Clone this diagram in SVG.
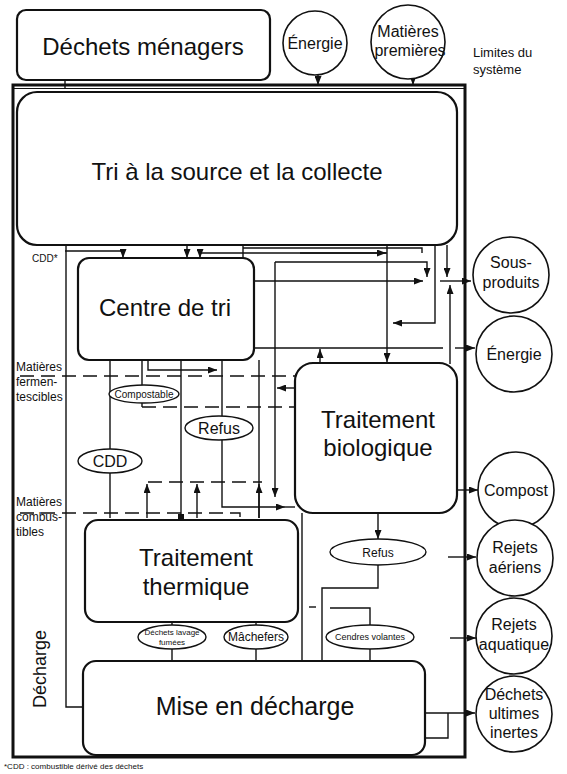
<svg xmlns="http://www.w3.org/2000/svg" width="567" height="774" viewBox="0 0 567 774">
<style>
.box{fill:#fff;stroke:#111;stroke-width:2.2}
.circ{fill:#fff;stroke:#111;stroke-width:1.6}
.ell{fill:#fff;stroke:#111;stroke-width:1.4}
.ln{fill:none;stroke:#111;stroke-width:1.4}
.dash{fill:none;stroke:#111;stroke-width:1.4;stroke-dasharray:14 7}
.arr{fill:none;stroke:#111;stroke-width:1.4;marker-end:url(#ah)}
text{font-family:"Liberation Sans",Arial,sans-serif;fill:#111;text-anchor:middle}
.big{font-size:24px}
.mid{font-size:16px}
.sm{font-size:12px}
.xs{font-size:10px}
.lab{font-size:12px;text-anchor:start}
</style>
<defs>
<marker id="ah" markerWidth="9" markerHeight="7" refX="9" refY="3.5" orient="auto" markerUnits="userSpaceOnUse">
<path d="M0,0 L9,3.5 L0,7 z" fill="#111"/>
</marker>
</defs>
<rect width="567" height="774" fill="#fff"/>

<!-- system boundary -->
<g id="boundary">
<rect x="13" y="85" width="452" height="672" fill="none" stroke="#111" stroke-width="3"/>
<line x1="13" y1="88.5" x2="465" y2="88.5" stroke="#111" stroke-width="1.2"/>
</g>

<g id="connectors">
<!-- top inputs -->
<path class="arr" d="M318,75 V85"/>
<path class="arr" d="M413,79 V85"/>
<path class="ln" d="M65,80 V89"/>
<!-- Tri -> Centre de tri -->
<path class="arr" d="M65,251 H123 V258"/>
<path class="arr" d="M187,245 V258"/>
<path class="arr" d="M387,253 H200 V258"/>
<path class="arr" d="M300,253 H386"/>
<path class="ln" d="M243,245 V258"/>
<path class="ln" d="M243,248 H422 V253"/>
<path class="arr" d="M275,262 H427 V277"/>
<path class="arr" d="M275,262 V497"/>
<!-- to Sous-produits -->
<path class="arr" d="M253,281 H423"/>
<path class="arr" d="M440,281 H471"/>
<path class="arr" d="M387,245 V362"/>
<path class="arr" d="M435,245 V323 H393"/>
<path class="arr" d="M447,245 V277"/>
<path class="arr" d="M450,364 V285"/>
<!-- to Energie -->
<path class="ln" d="M253,348 H443"/>
<path class="arr" d="M455,348 H475"/>
<path class="arr" d="M320,363 V349"/>
<!-- below Centre de tri -->
<path class="ln" d="M110,360 V518"/>
<path class="ln" d="M142,360 V407"/>
<path class="dash" d="M142,407 H295"/>
<path class="arr" d="M148,360 V370 H217"/>
<path class="ln" d="M181,360 V518"/>
<rect x="178" y="514" width="6" height="5" fill="#111"/>
<path class="arr" d="M222,360 V507 H285"/>
<path class="ln" d="M285,507 H295"/>
<path class="ln" d="M259,360 V518"/>
<path class="arr" d="M259,518 V484"/>
<path class="dash" d="M20,376 H295"/>
<path class="arr" d="M295,388 H277"/>
<path class="dash" d="M148,482 H262"/>
<path class="arr" d="M147,518 V484"/>
<path class="arr" d="M197,518 V484"/>
<path class="dash" d="M20,513 H240 V518"/>
<!-- Traitement biologique outputs -->
<path class="arr" d="M457,490 H478"/>
<path class="arr" d="M378,513 V539"/>
<path class="ln" d="M378,565 V588 H322 V661"/>
<path class="ln" d="M302,513 V661"/>
<path class="ln" d="M330,608 H370 V625"/>
<path class="ln" d="M309,607 H316"/>
<path class="ln" d="M370,649 V661"/>
<!-- TT outputs -->
<path class="ln" d="M172,622 V661"/>
<path class="ln" d="M256,622 V661"/>
<!-- décharge line -->
<path class="ln" d="M66,245 V707 H83"/>
<!-- Mise en décharge outputs -->
<path class="arr" d="M425,713 H475"/>
<path class="ln" d="M425,738 H448 V713"/>
<path class="arr" d="M448,557 H476"/>
<path class="arr" d="M450,638 H476"/>
</g>

<g id="dechets-menagers">
<rect class="box" x="17" y="10" width="253" height="70" rx="9"/>
<text class="big" x="143" y="55">Déchets ménagers</text>
</g>
<g id="energie-in">
<circle class="circ" cx="315" cy="43" r="32"/>
<text class="mid" x="315" y="49">Énergie</text>
</g>
<g id="matieres-premieres">
<circle class="circ" cx="408" cy="42" r="37"/>
<text class="mid" x="408" y="37">Matières</text>
<text class="mid" x="410" y="56">premières</text>
</g>
<g id="limites">
<text class="lab" x="473" y="57" style="font-size:13px">Limites du</text>
<text class="lab" x="473" y="74" style="font-size:13px">système</text>
</g>

<g id="tri-source">
<rect class="box" x="17" y="92" width="440" height="153" rx="20"/>
<text class="big" x="237" y="180">Tri à la source et la collecte</text>
</g>
<g id="centre-tri">
<rect class="box" x="78" y="258" width="176" height="102" rx="11"/>
<text class="big" x="165" y="316">Centre de tri</text>
</g>
<g id="traitement-biologique">
<rect class="box" x="295" y="363" width="162" height="150" rx="18"/>
<text class="big" x="378" y="428">Traitement</text>
<text class="big" x="378" y="456">biologique</text>
</g>
<g id="traitement-thermique">
<rect class="box" x="85" y="520" width="213" height="102" rx="13"/>
<text class="big" x="196" y="566">Traitement</text>
<text class="big" x="196" y="595">thermique</text>
</g>
<g id="mise-decharge">
<rect class="box" x="83" y="661" width="342" height="94" rx="13"/>
<text class="big" x="255" y="715" style="font-size:25px">Mise en décharge</text>
</g>

<g id="compostable">
<ellipse class="ell" cx="144" cy="394" rx="35" ry="9"/>
<text class="xs" x="144" y="398">Compostable</text>
</g>
<g id="refus-1">
<ellipse class="ell" cx="219" cy="428" rx="34" ry="12"/>
<text class="mid" x="219" y="434">Refus</text>
</g>
<g id="cdd">
<ellipse class="ell" cx="110" cy="461" rx="32" ry="12"/>
<text class="mid" x="110" y="467">CDD</text>
</g>
<g id="refus-2">
<ellipse class="ell" cx="378" cy="552" rx="48" ry="13"/>
<text class="sm" x="378" y="557">Refus</text>
</g>
<g id="dechets-lavage">
<ellipse class="ell" cx="172" cy="637" rx="34" ry="12"/>
<text x="172" y="635" style="font-size:8px">Déchets lavage</text>
<text x="172" y="645" style="font-size:8px">fumées</text>
</g>
<g id="machefers">
<ellipse class="ell" cx="256" cy="637" rx="32" ry="12"/>
<text class="sm" x="256" y="641">Mâchefers</text>
</g>
<g id="cendres">
<ellipse class="ell" cx="370" cy="637" rx="44" ry="12"/>
<text x="370" y="640" style="font-size:9px">Cendres volantes</text>
</g>

<g id="sous-produits">
<circle class="circ" cx="511" cy="275" r="38"/>
<text class="mid" x="511" y="268">Sous-</text>
<text class="mid" x="511" y="288">produits</text>
</g>
<g id="energie-out">
<circle class="circ" cx="514" cy="354" r="38"/>
<text class="mid" x="514" y="360">Énergie</text>
</g>
<g id="compost">
<circle class="circ" cx="516" cy="490" r="38"/>
<text class="mid" x="516" y="496">Compost</text>
</g>
<g id="rejets-aeriens">
<circle class="circ" cx="515" cy="558" r="38"/>
<text class="mid" x="515" y="553">Rejets</text>
<text class="mid" x="515" y="573">aériens</text>
</g>
<g id="rejets-aquatique">
<circle class="circ" cx="514" cy="636" r="38"/>
<text class="mid" x="514" y="630">Rejets</text>
<text class="mid" x="514" y="650">aquatique</text>
</g>
<g id="dechets-ultimes">
<circle class="circ" cx="514" cy="714" r="38"/>
<text class="mid" x="514" y="700">Déchets</text>
<text class="mid" x="514" y="719">ultimes</text>
<text class="mid" x="514" y="738">inertes</text>
</g>

<g id="labels">
<text class="lab" x="32" y="262" style="font-size:10px">CDD*</text>
<text class="lab" x="16" y="371">Matières</text>
<text class="lab" x="16" y="386">fermen-</text>
<text class="lab" x="16" y="401">tescibles</text>
<text class="lab" x="16" y="506">Matières</text>
<text class="lab" x="16" y="521">combus-</text>
<text class="lab" x="16" y="536">tibles</text>
<text x="46" y="669" transform="rotate(-90 46 669)" style="font-size:18px">Décharge</text>
<text class="lab" x="4" y="769" style="font-size:8px">*CDD : combustible dérivé des déchets</text>
</g>
</svg>
